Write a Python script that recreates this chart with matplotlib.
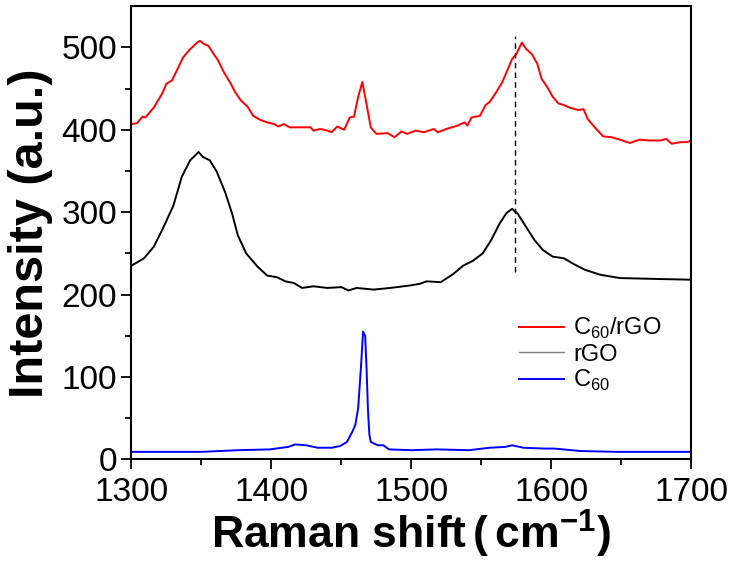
import numpy as np
import matplotlib
matplotlib.use("Agg")
import matplotlib.pyplot as plt
from matplotlib.lines import Line2D

plt.rcParams['font.family'] = ['Liberation Sans', 'DejaVu Sans']
plt.rcParams['mathtext.fontset'] = 'custom'
plt.rcParams['mathtext.rm'] = 'Liberation Sans'
plt.rcParams['mathtext.bf'] = 'Liberation Sans:bold'

# C60/rGO spectrum
x_c60rgo = [1300, 1304, 1308, 1310, 1316, 1322, 1325, 1329, 1333, 1337, 1342, 1344,
            1347, 1349, 1352, 1355, 1358, 1362, 1366, 1371, 1374, 1378, 1383, 1387,
            1392, 1397, 1402, 1405, 1409, 1413, 1418, 1423, 1428, 1430, 1435, 1440,
            1443, 1447, 1452, 1456, 1459, 1462, 1465, 1467, 1471, 1475, 1483, 1488,
            1493, 1497, 1503, 1509, 1516, 1519, 1525, 1533, 1538, 1540, 1543, 1549,
            1553, 1556, 1560, 1565, 1569, 1572, 1575, 1579, 1582, 1586, 1590, 1593,
            1597, 1601, 1605, 1609, 1613, 1619, 1623, 1626, 1631, 1637, 1643, 1649,
            1656, 1663, 1670, 1678, 1682, 1686, 1692, 1697, 1700]
y_c60rgo = [407, 408, 416, 415, 427, 444, 456, 460, 474, 488, 498, 501,
            506, 508, 504, 502, 494, 484, 470, 456, 446, 436, 428, 417,
            412, 409, 407, 404, 407, 403, 403, 403, 403, 399, 401, 399,
            397, 404, 400, 415, 416, 440, 458, 440, 403, 395, 396, 391,
            398, 395, 399, 397, 401, 397, 401, 405, 409, 405, 415, 417,
            430, 434, 444, 458, 474, 486, 492, 506, 498, 492, 480, 462,
            452, 440, 432, 430, 427, 424, 425, 413, 403, 392, 391, 388,
            384, 388, 387, 387, 389, 383, 385, 385, 387]

# rGO spectrum
x_rgo = [1300, 1309, 1316, 1323, 1330, 1336, 1342, 1348, 1351, 1356, 1361, 1367,
         1372, 1376, 1382, 1390, 1397, 1404, 1410, 1416, 1422, 1430, 1440, 1450,
         1455, 1461, 1473, 1485, 1499, 1506, 1511, 1521, 1530, 1537, 1544, 1551,
         1557, 1563, 1568, 1572, 1576, 1582, 1588, 1594, 1601, 1609, 1616, 1624,
         1635, 1649, 1673, 1700]
y_rgo = [235, 244, 258, 282, 308, 343, 363, 373, 367, 363, 349, 324,
         298, 272, 250, 234, 223, 221, 216, 214, 208, 210, 208, 209,
         205, 208, 206, 208, 211, 213, 216, 215, 225, 235, 241, 250,
         266, 286, 299, 304, 298, 282, 266, 254, 246, 244, 237, 230,
         224, 220, 219, 218]

# C60 spectrum
x_c60 = [1300, 1350, 1376, 1399, 1412, 1417, 1425, 1433, 1443, 1449, 1454, 1458,
         1460, 1462, 1464, 1465.5, 1467, 1468, 1469, 1470, 1471, 1476, 1480, 1484,
         1500, 1518, 1541, 1556, 1567, 1572, 1580, 1595, 1602, 1621, 1647, 1673, 1700]
y_c60 = [9, 9, 11, 12, 15, 18, 17, 14, 14, 16, 21, 34,
         42, 62, 112, 155, 150, 110, 60, 30, 21, 17, 17, 12,
         11, 12, 11, 14, 15, 17, 14, 13, 13, 10, 9, 9, 9]

g_band = 1574
g_range = [227, 514]

fig = plt.figure(figsize=(7.3, 5.67), dpi=100)
ax = fig.add_axes([0.180, 0.190, 0.767, 0.799])

ax.plot(x_c60rgo, y_c60rgo, color='red', lw=1.4)
ax.plot(x_rgo, y_rgo, color='black', lw=1.4)
ax.plot(x_c60, y_c60, color='blue', lw=1.4)
ax.plot([g_band, g_band], g_range, color='black', lw=1.0, ls=(0, (4, 3)))

ax.set_xlim(1300, 1700)
ax.set_ylim(0, 550)
ax.set_xticks([1300, 1400, 1500, 1600, 1700])
ax.set_xticks(np.arange(1350, 1700, 100), minor=True)
ax.set_yticks([0, 100, 200, 300, 400, 500])
ax.set_yticks(np.arange(50, 550, 100), minor=True)
ax.tick_params(which='major', direction='out', length=7, width=1.3, labelsize=24)
ax.tick_params(axis='x', which='major', pad=6)
ax.tick_params(which='minor', direction='out', length=4, width=1.3)
for s in ax.spines.values():
    s.set_linewidth(1.5)

ax.set_ylabel('Intensity (a.u.)', fontsize=35, fontweight='bold', labelpad=6)
ax.set_xlabel(r'Raman shift$\mathregular{\,(\,}$cm$^{\mathbf{-1}}$$\mathregular{)}$',
              fontsize=32, fontweight='bold', labelpad=0)

handles = [Line2D([], [], color='red', lw=1.4),
           Line2D([], [], color='gray', lw=1.0),
           Line2D([], [], color='blue', lw=1.4)]
labels = [r'C$_\mathregular{60}$/rGO', 'rGO', r'C$_\mathregular{60}$']
ax.legend(handles, labels, loc='upper left', bbox_to_anchor=(0.671, 0.342),
          frameon=False, fontsize=17, labelspacing=0.1, handlelength=1.9,
          handletextpad=0.4, borderpad=0)

fig.savefig('out.png', dpi=100)
